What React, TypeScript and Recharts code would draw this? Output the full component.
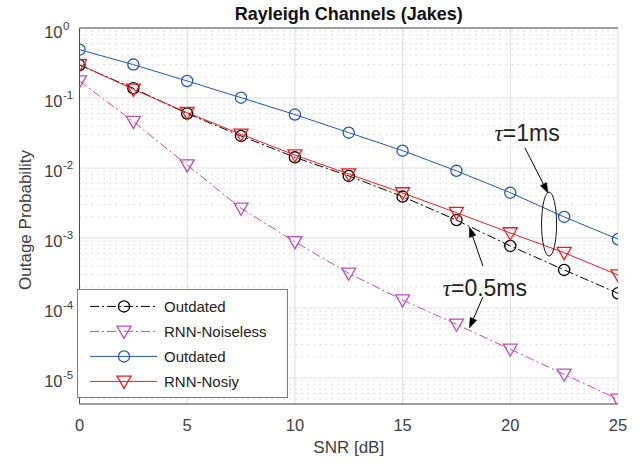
import React from 'react';
import {
  ComposedChart,
  Line,
  XAxis,
  YAxis,
  CartesianGrid,
  ReferenceLine,
  ReferenceDot,
  Legend,
} from 'recharts';

// ---------- data ----------
const snr = [0, 2.5, 5, 7.5, 10, 12.5, 15, 17.5, 20, 22.5, 25];
const outdated05 = [0.295, 0.1375, 0.06, 0.0287, 0.0142, 0.0077, 0.0039, 0.0018, 0.00077, 0.00035, 0.000162];
const rnnNoiseless05 = [0.175, 0.046, 0.011, 0.00266, 0.00088, 0.000313, 0.00013, 5.85e-5, 2.57e-5, 1.13e-5, 4.96e-6];
const outdated1 = [0.49, 0.3, 0.175, 0.101, 0.058, 0.032, 0.0177, 0.0091, 0.00444, 0.002, 0.00096];
const rnnNoisy1 = [0.3, 0.133, 0.0617, 0.0303, 0.0153, 0.0082, 0.0044, 0.0023, 0.00118, 0.000617, 0.000296];

const xTicks = [0, 5, 10, 15, 20, 25];
const yMajorTicks = [1e-5, 1e-4, 1e-3, 1e-2, 1e-1, 1];
const yMinorTicks = [
  5e-6, 6e-6, 7e-6, 8e-6, 9e-6,
  2e-5, 3e-5, 4e-5, 5e-5, 6e-5, 7e-5, 8e-5, 9e-5,
  2e-4, 3e-4, 4e-4, 5e-4, 6e-4, 7e-4, 8e-4, 9e-4,
  2e-3, 3e-3, 4e-3, 5e-3, 6e-3, 7e-3, 8e-3, 9e-3,
  2e-2, 3e-2, 4e-2, 5e-2, 6e-2, 7e-2, 8e-2, 9e-2,
  0.2, 0.3, 0.4, 0.5, 0.6, 0.7, 0.8, 0.9,
];
const yDomain = [4.25e-6, 1];

// annotation anchors (data coordinates)
const tau1Label = { x: 20.78, y: 0.0316, text: '=1ms' };
const tau1Arrow = [{ x: 20.68, y: 0.0193 }, { x: 21.75, y: 0.00439 }];
const tau1Ellipse = { x: 21.8, y: 0.00158 };
const tau05Label = { x: 18.82, y: 1.93e-4, text: '=0.5ms' };
const tau05ArrowUp = [{ x: 18.73, y: 3.98e-4 }, { x: 18.1, y: 1.44e-3 }];
const tau05ArrowDown = [{ x: 18.73, y: 1.44e-4 }, { x: 18.1, y: 5.18e-5 }];

const BLACK = '#000000';
const MAGENTA = '#bd4cbd';
const BLUE = '#2356b4';
const RED = '#f01c1c';
const AXIS = '#4a4a4a';
const TEXT = '#404040';
const FONT = '"Liberation Sans", Arial, Helvetica, sans-serif';

const rows = snr.map((s, i) => ({
  snr: s,
  o05: outdated05[i],
  n05: rnnNoiseless05[i],
  o1: outdated1[i],
  n1: rnnNoisy1[i],
}));

const legendItems = [
  { name: 'Outdated', color: BLACK, dash: '9 3 2 3', marker: 'circle' },
  { name: 'RNN-Noiseless', color: MAGENTA, dash: '9 3 2 3', marker: 'tri' },
  { name: 'Outdated', color: BLUE, dash: undefined, marker: 'circle' },
  { name: 'RNN-Nosiy', color: RED, dash: undefined, marker: 'tri' },
];

// ---------- markers ----------
const circleDot = (color: string) => (props: any) => {
  const { cx, cy, index } = props;
  if (cx == null || cy == null) return <g key={`c${index}`} />;
  return <circle key={`c${index}`} cx={cx} cy={cy} r={5.6} fill="none" stroke={color} strokeWidth={1.3} />;
};

const triPoints = (cx: number, cy: number) =>
  `${cx - 7},${cy - 5.2} ${cx + 7},${cy - 5.2} ${cx},${cy + 7}`;

const triDot = (color: string) => (props: any) => {
  const { cx, cy, index } = props;
  if (cx == null || cy == null) return <g key={`t${index}`} />;
  return <polygon key={`t${index}`} points={triPoints(cx, cy)} fill="none" stroke={color} strokeWidth={1.3} />;
};

// ---------- ticks ----------
const YTick = (props: any) => {
  const { x, y, payload } = props;
  const exp = Math.round(Math.log10(payload.value));
  return (
    <g>
      <text x={x - 17} y={y + 9.5} textAnchor="end" fontSize={16.5} fill={TEXT} fontFamily={FONT}>
        10
      </text>
      <text x={x - 16.5} y={y + 1.5} textAnchor="start" fontSize={11.5} fill={TEXT} fontFamily={FONT}>
        {exp}
      </text>
    </g>
  );
};

const Empty = () => <g />;

// ---------- annotations ----------
const arrowShape = (props: any) => {
  const { x1, y1, x2, y2 } = props;
  if ([x1, y1, x2, y2].some((v) => v == null || isNaN(v))) return <g />;
  const dx = x2 - x1;
  const dy = y2 - y1;
  const len = Math.sqrt(dx * dx + dy * dy);
  const ux = dx / len;
  const uy = dy / len;
  const hl = 10;
  const hw = 3.5;
  const bx = x2 - ux * hl;
  const by = y2 - uy * hl;
  const pts = `${x2},${y2} ${bx - uy * hw},${by + ux * hw} ${bx + uy * hw},${by - ux * hw}`;
  return (
    <g>
      <line x1={x1} y1={y1} x2={bx} y2={by} stroke="#000" strokeWidth={1} />
      <polygon points={pts} fill="#000" stroke="#000" strokeWidth={0.5} />
    </g>
  );
};

const labelShape = (text: string) => (props: any) => {
  const { cx, cy } = props;
  return (
    <text x={cx} y={cy} dy="0.36em" textAnchor="middle" fontSize={23} fill="#222" fontFamily={FONT}>
      <tspan fontFamily='"Liberation Serif", "DejaVu Serif", serif' fontStyle="italic">τ</tspan>
      {text}
    </text>
  );
};

const ellipseShape = (props: any) => {
  const { cx, cy } = props;
  return <ellipse cx={cx} cy={cy} rx={7.5} ry={32} fill="none" stroke="#111" strokeWidth={1} />;
};

// ---------- legend ----------
const LegendContent = () => (
  <svg width={211} height={109} style={{ display: 'block' }}>
    <rect x={0.5} y={0.5} width={210} height={108} fill="#fff" stroke="#7a7a7a" strokeWidth={1} />
    {legendItems.map((it, i) => {
      const y = 17.4 + i * 25;
      return (
        <g key={i}>
          <line x1={13} y1={y} x2={80} y2={y} stroke={it.color} strokeWidth={1} strokeDasharray={it.dash} />
          {it.marker === 'circle' ? (
            <circle cx={47} cy={y} r={5.6} fill="none" stroke={it.color} strokeWidth={1.3} />
          ) : (
            <polygon points={triPoints(47, y)} fill="none" stroke={it.color} strokeWidth={1.3} />
          )}
          <text x={87} y={y} dy="0.36em" fontSize={15} fill="#222" fontFamily={FONT}>
            {it.name}
          </text>
        </g>
      );
    })}
  </svg>
);

export default function App() {
  return (
    <div style={{ position: 'absolute', left: 0, top: 0, width: 641, height: 464, background: '#fff' }}>
      <ComposedChart
        width={641}
        height={464}
        data={rows}
        margin={{ top: 28, right: 23, bottom: 0, left: 0 }}
      >
        <CartesianGrid stroke="#dedede" strokeWidth={1} vertical horizontal />
        {yMinorTicks.map((v) => (
          <ReferenceLine key={`m${v}`} y={v} stroke="#c9c9c9" strokeDasharray="1.2 4.8" strokeWidth={1} />
        ))}
        <ReferenceLine y={1} stroke={AXIS} strokeWidth={1} ifOverflow="visible" />

        <XAxis
          dataKey="snr"
          type="number"
          domain={[0, 25]}
          ticks={xTicks}
          allowDataOverflow
          height={60}
          tickSize={0}
          tickMargin={15}
          axisLine={{ stroke: AXIS }}
          tickLine={false}
          tick={{ fontSize: 16.5, fill: TEXT, fontFamily: FONT }}
          label={(p: any) => {
            const vb = p.viewBox;
            const cx = vb.x + vb.width / 2;
            return (
              <g>
                <text x={cx} y={453} textAnchor="middle" fontSize={17} fill={TEXT} fontFamily={FONT}>
                  SNR [dB]
                </text>
                <text x={cx} y={19.5} textAnchor="middle" fontSize={18} fontWeight="bold" fill="#111" fontFamily={FONT}>
                  Rayleigh Channels (Jakes)
                </text>
              </g>
            );
          }}
        />
        <XAxis
          xAxisId="bottomTicks"
          dataKey="snr"
          type="number"
          domain={[0, 25]}
          ticks={xTicks}
          orientation="bottom"
          mirror
          height={0}
          tickSize={5}
          axisLine={false}
          tickLine={{ stroke: AXIS }}
          tick={Empty}
        />
        <XAxis
          xAxisId="top"
          dataKey="snr"
          type="number"
          domain={[0, 25]}
          ticks={xTicks}
          orientation="top"
          mirror
          height={0}
          tickSize={5}
          axisLine={{ stroke: AXIS }}
          tickLine={{ stroke: AXIS }}
          tick={Empty}
        />

        <YAxis
          yAxisId="minL"
          orientation="left"
          mirror
          width={0}
          scale="log"
          type="number"
          domain={yDomain}
          allowDataOverflow
          ticks={yMinorTicks}
          tickSize={3}
          axisLine={false}
          tickLine={{ stroke: AXIS }}
          tick={Empty}
        />
        <YAxis
          yAxisId="majL"
          orientation="left"
          mirror
          width={0}
          scale="log"
          type="number"
          domain={yDomain}
          allowDataOverflow
          ticks={yMajorTicks}
          tickSize={5}
          axisLine={false}
          tickLine={{ stroke: AXIS }}
          tick={Empty}
        />
        <YAxis
          scale="log"
          type="number"
          domain={yDomain}
          allowDataOverflow
          ticks={yMajorTicks}
          width={79.5}
          tickSize={0}
          tickMargin={0}
          axisLine={{ stroke: AXIS }}
          tickLine={false}
          tick={YTick}
          label={(p: any) => {
            const vb = p.viewBox;
            const cy = vb.y + vb.height / 2 + 4;
            return (
              <text x={25} y={cy} dy="0.36em" textAnchor="middle" fontSize={17} fill={TEXT} fontFamily={FONT} transform={`rotate(-90 25 ${cy})`}>
                Outage Probability
              </text>
            );
          }}
        />
        <YAxis
          yAxisId="minR"
          orientation="right"
          mirror
          width={0}
          scale="log"
          type="number"
          domain={yDomain}
          allowDataOverflow
          ticks={yMinorTicks}
          tickSize={3}
          axisLine={false}
          tickLine={{ stroke: AXIS }}
          tick={Empty}
        />
        <YAxis
          yAxisId="majR"
          orientation="right"
          mirror
          width={0}
          scale="log"
          type="number"
          domain={yDomain}
          allowDataOverflow
          ticks={yMajorTicks}
          tickSize={5}
          axisLine={{ stroke: AXIS }}
          tickLine={{ stroke: AXIS }}
          tick={Empty}
        />

        <Line
          dataKey="o05"
          stroke={BLACK}
          strokeWidth={1}
          strokeDasharray="9 3 2 3"
          dot={circleDot(BLACK)}
          activeDot={false}
          isAnimationActive={false}
        />
        <Line
          dataKey="n05"
          stroke={MAGENTA}
          strokeWidth={1}
          strokeDasharray="9 3 2 3"
          dot={triDot(MAGENTA)}
          activeDot={false}
          isAnimationActive={false}
        />
        <Line
          dataKey="o1"
          stroke={BLUE}
          strokeWidth={1}
          dot={circleDot(BLUE)}
          activeDot={false}
          isAnimationActive={false}
        />
        <Line
          dataKey="n1"
          stroke={RED}
          strokeWidth={1}
          dot={triDot(RED)}
          activeDot={false}
          isAnimationActive={false}
        />

        <ReferenceLine segment={tau1Arrow} shape={arrowShape} ifOverflow="visible" />
        <ReferenceLine segment={tau05ArrowUp} shape={arrowShape} ifOverflow="visible" />
        <ReferenceLine segment={tau05ArrowDown} shape={arrowShape} ifOverflow="visible" />
        <ReferenceDot x={tau1Ellipse.x} y={tau1Ellipse.y} r={1} shape={ellipseShape} ifOverflow="visible" />
        <ReferenceDot x={tau1Label.x} y={tau1Label.y} r={1} shape={labelShape(tau1Label.text)} ifOverflow="visible" />
        <ReferenceDot x={tau05Label.x} y={tau05Label.y} r={1} shape={labelShape(tau05Label.text)} ifOverflow="visible" />

        <Legend
          layout="vertical"
          align="center"
          verticalAlign="middle"
          content={LegendContent}
          wrapperStyle={{ position: 'absolute', left: 77, top: 289, width: 211, height: 109 }}
        />
      </ComposedChart>
    </div>
  );
}
